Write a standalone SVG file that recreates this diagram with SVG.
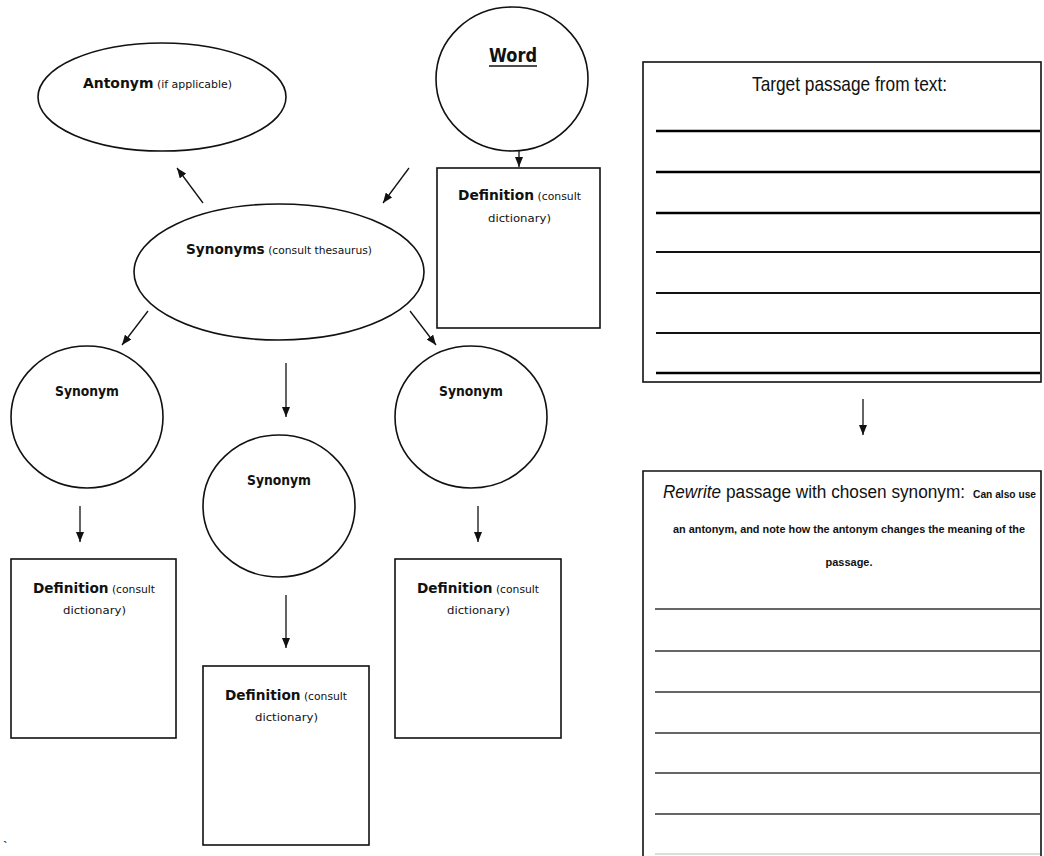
<svg xmlns="http://www.w3.org/2000/svg" width="1044" height="856" viewBox="0 0 1044 856">
<style>
.shape{fill:#fff;stroke:#111;stroke-width:1.6}
.conn line{stroke:#111;stroke-width:1.3;marker-end:url(#ah)}
.cm{font-family:"Comic Sans MS","DejaVu Sans",sans-serif;fill:#111}
.b{font-weight:bold}
.gt{font-family:"Liberation Sans","Arial",sans-serif;fill:#111}
.rule{stroke:#000;stroke-width:2.4}
.rule1{stroke:#111;stroke-width:1.8}
.rule2{stroke:#333;stroke-width:1.3}
</style>
<defs>
<marker id="ah" markerUnits="userSpaceOnUse" markerWidth="10" markerHeight="8" refX="10" refY="4" orient="auto">
<path d="M0,0 L10,4 L0,8 z" fill="#111"/>
</marker>
</defs>
<rect width="1044" height="856" fill="#fff"/>

<g id="antonym">
<ellipse class="shape" cx="162" cy="97" rx="124" ry="54"/>
<text class="cm" x="83" y="88" textLength="149" lengthAdjust="spacingAndGlyphs"><tspan class="b" font-size="14">Antonym</tspan><tspan font-size="11"> (if applicable)</tspan></text>
</g>

<g id="word">
<ellipse class="shape" cx="512" cy="79" rx="76" ry="72"/>
<text class="cm b" x="489" y="62" font-size="19" textLength="48" lengthAdjust="spacingAndGlyphs">Word</text>
<line x1="489" y1="66" x2="537" y2="66" stroke="#111" stroke-width="1.6"/>
</g>

<g id="def-word">
<rect class="shape" x="437" y="168" width="163" height="160"/>
<text class="cm" x="458" y="200" textLength="123" lengthAdjust="spacingAndGlyphs"><tspan class="b" font-size="14">Definition</tspan><tspan font-size="11"> (consult</tspan></text>
<text class="cm" x="488" y="222" font-size="11" textLength="63" lengthAdjust="spacingAndGlyphs">dictionary)</text>
</g>

<g id="synonyms">
<ellipse class="shape" cx="279" cy="272" rx="145" ry="68"/>
<text class="cm" x="186" y="254" textLength="186" lengthAdjust="spacingAndGlyphs"><tspan class="b" font-size="14">Synonyms</tspan><tspan font-size="11"> (consult thesaurus)</tspan></text>
</g>

<g id="synonym-left">
<ellipse class="shape" cx="87" cy="417" rx="76" ry="71"/>
<text class="cm b" x="87" y="396" font-size="14" text-anchor="middle" textLength="64" lengthAdjust="spacingAndGlyphs">Synonym</text>
</g>
<g id="synonym-mid">
<ellipse class="shape" cx="279" cy="506" rx="76" ry="71"/>
<text class="cm b" x="279" y="485" font-size="14" text-anchor="middle" textLength="64" lengthAdjust="spacingAndGlyphs">Synonym</text>
</g>
<g id="synonym-right">
<ellipse class="shape" cx="471" cy="417" rx="76" ry="71"/>
<text class="cm b" x="471" y="396" font-size="14" text-anchor="middle" textLength="64" lengthAdjust="spacingAndGlyphs">Synonym</text>
</g>

<g id="def-left">
<rect class="shape" x="11" y="559" width="165" height="179"/>
<text class="cm" x="33" y="593" textLength="122" lengthAdjust="spacingAndGlyphs"><tspan class="b" font-size="14">Definition</tspan><tspan font-size="11"> (consult</tspan></text>
<text class="cm" x="63" y="614" font-size="11" textLength="63" lengthAdjust="spacingAndGlyphs">dictionary)</text>
</g>
<g id="def-mid">
<rect class="shape" x="203" y="666" width="166" height="179"/>
<text class="cm" x="225" y="700" textLength="122" lengthAdjust="spacingAndGlyphs"><tspan class="b" font-size="14">Definition</tspan><tspan font-size="11"> (consult</tspan></text>
<text class="cm" x="255" y="721" font-size="11" textLength="63" lengthAdjust="spacingAndGlyphs">dictionary)</text>
</g>
<g id="def-right">
<rect class="shape" x="395" y="559" width="166" height="179"/>
<text class="cm" x="417" y="593" textLength="122" lengthAdjust="spacingAndGlyphs"><tspan class="b" font-size="14">Definition</tspan><tspan font-size="11"> (consult</tspan></text>
<text class="cm" x="447" y="614" font-size="11" textLength="63" lengthAdjust="spacingAndGlyphs">dictionary)</text>
</g>

<g id="target-passage">
<rect class="shape" x="643" y="62" width="398" height="320"/>
<text class="gt" x="752" y="91" font-size="21" textLength="195" lengthAdjust="spacingAndGlyphs">Target passage from text:</text>
<line class="rule" x1="656" y1="131" x2="1040" y2="131"/>
<line class="rule" x1="656" y1="172" x2="1040" y2="172"/>
<line class="rule" x1="656" y1="213" x2="1040" y2="213"/>
<line class="rule1" x1="656" y1="252" x2="1040" y2="252"/>
<line class="rule1" x1="656" y1="293" x2="1040" y2="293"/>
<line class="rule1" x1="656" y1="333" x2="1040" y2="333"/>
<line class="rule" x1="656" y1="373" x2="1040" y2="373"/>
</g>

<g id="rewrite-passage">
<path class="shape" d="M643,858 L643,471 L1041,471 L1041,858"/>
<text class="gt" x="663" y="498" font-size="18" font-style="italic" textLength="58" lengthAdjust="spacingAndGlyphs">Rewrite</text>
<text class="gt" x="726" y="498" font-size="18" textLength="239" lengthAdjust="spacingAndGlyphs">passage with chosen synonym:</text>
<text class="gt" x="973" y="498" font-size="11" font-weight="bold" textLength="63" lengthAdjust="spacingAndGlyphs">Can also use</text>
<text class="gt" x="849" y="533" font-size="11" font-weight="bold" text-anchor="middle" textLength="352" lengthAdjust="spacingAndGlyphs">an antonym, and note how the antonym changes the meaning of the</text>
<text class="gt" x="849" y="566" font-size="11" font-weight="bold" text-anchor="middle" textLength="47" lengthAdjust="spacingAndGlyphs">passage.</text>
<line class="rule2" x1="655" y1="609" x2="1040" y2="609"/>
<line class="rule2" x1="655" y1="651" x2="1040" y2="651"/>
<line class="rule2" x1="655" y1="692" x2="1040" y2="692"/>
<line class="rule2" x1="655" y1="733" x2="1040" y2="733"/>
<line class="rule2" x1="655" y1="773" x2="1040" y2="773"/>
<line class="rule2" x1="655" y1="814" x2="1040" y2="814"/>
<line x1="655" y1="854" x2="1040" y2="854" stroke="#bbb" stroke-width="1.2"/>
</g>

<g id="connectors" class="conn">
<line x1="203" y1="203" x2="177" y2="168"/>
<line x1="409" y1="168" x2="383" y2="203"/>
<line x1="519" y1="151" x2="519" y2="167"/>
<line x1="148" y1="311" x2="122" y2="345"/>
<line x1="410" y1="311" x2="436" y2="345"/>
<line x1="286" y1="363" x2="286" y2="417"/>
<line x1="80" y1="506" x2="80" y2="542"/>
<line x1="478" y1="506" x2="478" y2="542"/>
<line x1="286" y1="595" x2="286" y2="648"/>
<line x1="863" y1="399" x2="863" y2="435"/>
</g>

<text class="gt" x="3" y="852" font-size="14">`</text>
</svg>
